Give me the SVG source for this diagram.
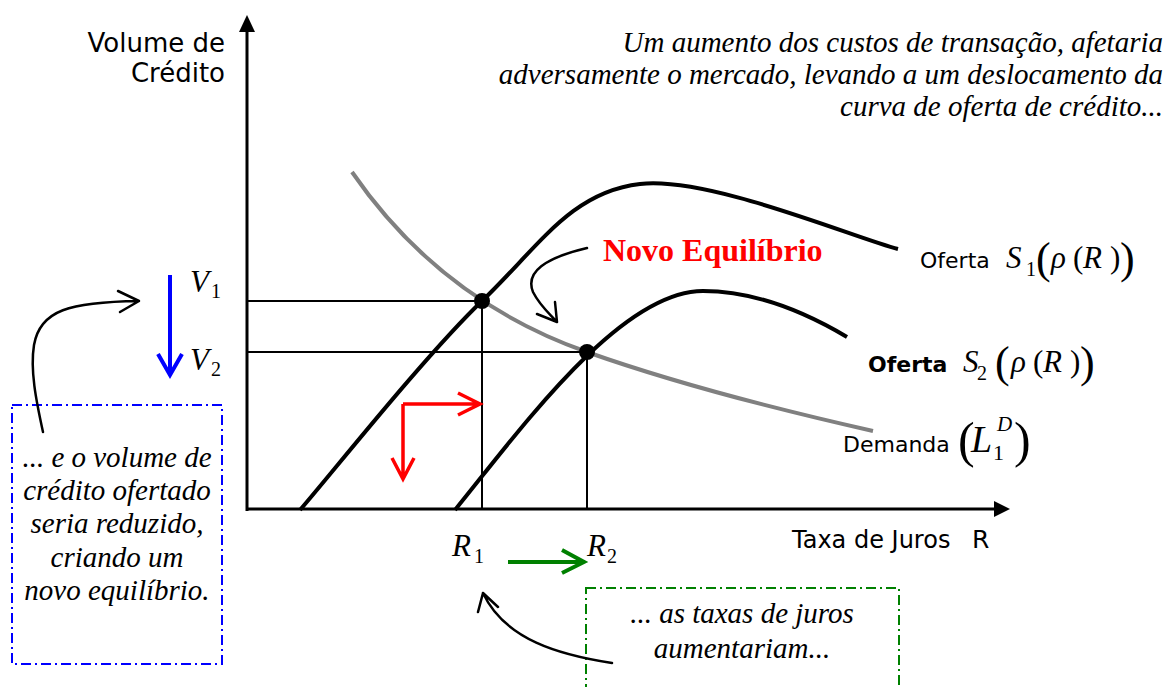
<svg xmlns="http://www.w3.org/2000/svg" width="1168" height="687" viewBox="0 0 1168 687">
<style>
.sans{font-family:"DejaVu Sans","Verdana",sans-serif;font-size:22px;fill:#000}
.it{font-family:"Liberation Serif","Times New Roman",serif;font-style:italic;font-size:29px;fill:#000}
.m{font-family:"Liberation Serif","Times New Roman",serif;font-style:italic;font-size:31px;fill:#000}
.mn{font-family:"Liberation Serif","Times New Roman",serif;font-size:20px;fill:#000}
.par{font-family:"Liberation Serif","Times New Roman",serif;font-size:31px;fill:#000}
.big{font-family:"Liberation Serif","Times New Roman",serif;font-size:44px;fill:#000}
.curve{fill:none;stroke:#000;stroke-width:4;stroke-linecap:butt}
.thin{fill:none;stroke:#000;stroke-width:2}
.note{fill:none;stroke:#000;stroke-width:2.5;stroke-linecap:round;stroke-linejoin:round}
.box{fill:none;stroke-width:2;stroke-dasharray:10 4 2 4}
</style>
<rect width="1168" height="687" fill="#fff"/>

<g id="axes">
<line x1="247" y1="511" x2="247" y2="30" stroke="#000" stroke-width="3"/>
<polygon points="247,15 239,32 255,32" fill="#000"/>
<line x1="246" y1="509" x2="996" y2="509" stroke="#000" stroke-width="3"/>
<polygon points="1010,509 994,501 994,517" fill="#000"/>
<text class="sans" x="225" y="52" text-anchor="end" style="font-size:26px">Volume de</text>
<text class="sans" x="225" y="82" text-anchor="end" style="font-size:26px">Crédito</text>
<text class="sans" x="792" y="548" style="font-size:24px">Taxa de Juros</text>
<text class="sans" x="972" y="548" style="font-size:25px">R</text>
</g>

<g id="guides">
<line class="thin" x1="247" y1="301" x2="482" y2="301"/>
<line class="thin" x1="247" y1="352" x2="587" y2="352"/>
<line class="thin" x1="482" y1="301" x2="482" y2="509"/>
<line class="thin" x1="587" y1="352" x2="587" y2="509"/>
</g>

<g id="demand">
<path d="M352,172 Q440,300 587,352 Q700,392 873,431" fill="none" stroke="#808080" stroke-width="4"/>
<text class="sans" x="843" y="452">Demanda</text>
<text class="big" x="958" y="457" style="font-size:50px">(</text>
<text class="m" x="971" y="452" style="font-size:38px">L</text>
<text class="mn" x="993" y="460" style="font-size:22px">1</text>
<text class="m" x="997" y="431" style="font-size:21px">D</text>
<text class="big" x="1014" y="457" style="font-size:50px">)</text>
</g>

<g id="supply1">
<path class="curve" d="M300,510 C330.3,475.2 425.3,355.3 482,301 C538.7,246.7 570.7,192 640,184 C709.3,176 855,238.2 898,249"/>
<text class="sans" x="920" y="268">Oferta</text>
<text class="m" x="1006" y="268">S</text>
<text class="mn" x="1026" y="276">1</text>
<text class="big" x="1036" y="273">(</text>
<text class="m" x="1051" y="268">ρ</text>
<text class="par" x="1073" y="268">(</text>
<text class="m" x="1083" y="268">R</text>
<text class="par" x="1110" y="268">)</text>
<text class="big" x="1120" y="273">)</text>
</g>

<g id="supply2">
<path class="curve" d="M455,510 C520,430 620,291 703,291 C760,291 810,315 847,337"/>
<text class="sans" x="868" y="372" font-weight="bold">Oferta</text>
<text class="m" x="963" y="372">S</text>
<text class="mn" x="977" y="380">2</text>
<text class="big" x="995" y="377">(</text>
<text class="m" x="1011" y="372">ρ</text>
<text class="par" x="1033" y="372">(</text>
<text class="m" x="1043" y="372">R</text>
<text class="par" x="1070" y="372">)</text>
<text class="big" x="1080" y="377">)</text>
</g>

<g id="equilibria">
<circle cx="482" cy="301" r="8" fill="#000"/>
<circle cx="587" cy="352" r="8" fill="#000"/>
</g>

<g id="novo-equilibrio">
<text x="603" y="261" font-family="'Liberation Serif','Times New Roman',serif" font-weight="bold" font-size="32" fill="#ff0000">Novo Equilíbrio</text>
</g>

<g id="labels-v">
<text class="m" x="190" y="292">V</text>
<text class="mn" x="211" y="298">1</text>
<text class="m" x="190" y="370">V</text>
<text class="mn" x="211" y="376">2</text>
</g>

<g id="labels-r">
<text class="m" x="452" y="556">R</text>
<text class="mn" x="474" y="563">1</text>
<text class="m" x="587" y="556">R</text>
<text class="mn" x="607" y="563">2</text>
</g>

<g id="top-note">
<text class="it" x="1163" y="52" text-anchor="end">Um aumento dos custos de transação, afetaria</text>
<text class="it" x="1163" y="84" text-anchor="end">adversamente o mercado, levando a um deslocamento da</text>
<text class="it" x="1163" y="116" text-anchor="end">curva de oferta de crédito...</text>
</g>

<g id="volume-note">
<rect class="box" x="12" y="405" width="210" height="259" stroke="#0000ff"/>
<text class="it" x="117" y="467" text-anchor="middle">... e o volume de</text>
<text class="it" x="117" y="500" text-anchor="middle">crédito ofertado</text>
<text class="it" x="117" y="533" text-anchor="middle">seria reduzido,</text>
<text class="it" x="117" y="567" text-anchor="middle">criando um</text>
<text class="it" x="117" y="600" text-anchor="middle">novo equilíbrio.</text>
</g>

<g id="juros-note">
<rect class="box" x="586" y="588" width="313" height="120" stroke="#008000"/>
<text class="it" x="742" y="623" text-anchor="middle">... as taxas de juros</text>
<text class="it" x="742" y="658" text-anchor="middle">aumentariam...</text>
</g>

<g id="connectors">
<path d="M403,404 H479 M458,393 L480,404 L458,415 M403,404 V478 M392,458 L403,479 L414,458" fill="none" stroke="#ff0000" stroke-width="3.5" stroke-linejoin="miter"/>
<path d="M170,275 V374 M158,354 L170,375 L182,354" fill="none" stroke="#0000ff" stroke-width="4"/>
<path d="M508,562 H583 M562,550 L584,562 L562,573" fill="none" stroke="#008000" stroke-width="4"/>
<path class="note" d="M587,248 C545,258 525,272 533,292 C540,306 550,314 557,322 M537,314 L557,322 L555,302"/>
<path class="note" d="M43,432 C36,400 30,370 34,345 C40,310 70,302 139,301 M118,291 L139,301 L120,312"/>
<path class="note" d="M612,663 C560,655 505,640 483,593 M478,612 L483,593 L498,607"/>
</g>
</svg>
